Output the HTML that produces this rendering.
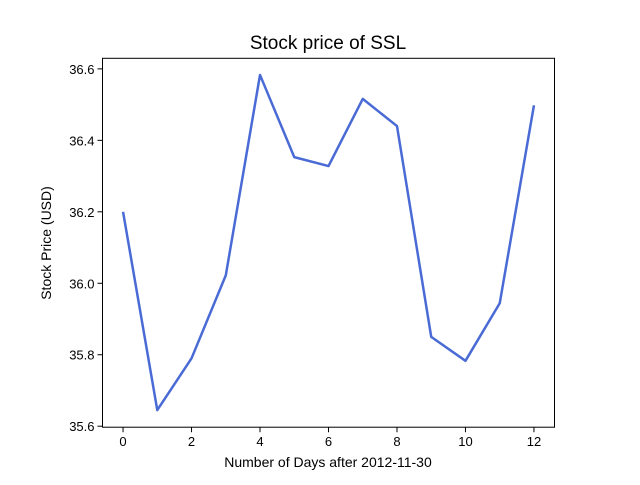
<!DOCTYPE html>
<html><head><meta charset="utf-8"><style>
body{margin:0;background:#fff;}
svg text{font-family:"Liberation Sans",sans-serif;}
</style></head><body>
<svg id="chart" width="640" height="480" xmlns="http://www.w3.org/2000/svg">
<rect width="640" height="480" fill="#fff"/>
<text x="328" y="49" font-size="19" text-anchor="middle">Stock price of SSL</text>
<g id="plot"></g>
<text x="328" y="467" font-size="14" text-anchor="middle">Number of Days after 2012-11-30</text>
<text transform="translate(51,243) rotate(-90)" font-size="14" text-anchor="middle">Stock Price (USD)</text>
</svg>
<script>
const days=[0,1,2,3,4,5,6,7,8,9,10,11,12];
const prices=[36.20,35.645,35.79,36.022,36.583,36.353,36.328,36.516,36.440,35.850,35.783,35.944,36.498];
const xTicks=[0,2,4,6,8,10,12];
const yTicks=[35.6,35.8,36.0,36.2,36.4,36.6];
const yTickLabels=["35.6","35.8","36.0","36.2","36.4","36.6"];
const L=102.5,R=554.5,T=58.3,B=427.2;
const xmin=-0.6,xmax=12.6,ymin=35.6-0.0028,ymax=36.6+0.0296;
const xs=v=>L+(v-xmin)/(xmax-xmin)*(R-L);
const ys=v=>B-(v-ymin)/(ymax-ymin)*(B-T);
const g=document.getElementById('plot');
const NS='http://www.w3.org/2000/svg';
function mk(t,a){const e=document.createElementNS(NS,t);for(const k in a)e.setAttribute(k,a[k]);g.appendChild(e);return e;}
const line=mk('polyline',{points:days.map((d,i)=>xs(d)+','+ys(prices[i])).join(' '),fill:'none',stroke:'#4a6bd5','stroke-width':2.5,'stroke-linejoin':'round'});


const fr=mk('rect',{x:L,y:T,width:R-L,height:B-T,fill:'none',stroke:'#000','stroke-width':1});


xTicks.forEach(v=>{const x=xs(v);
mk('line',{x1:x,x2:x,y1:B,y2:B+5,stroke:'#000'});
const t=mk('text',{x:x,y:B+19,'font-size':13,'text-anchor':'middle'});t.textContent=v;

});
yTicks.forEach((v,i)=>{const y=ys(v);
mk('line',{x1:L-5,x2:L,y1:y,y2:y,stroke:'#000'});
const t=mk('text',{x:L-8,y:y+5,'font-size':13,'text-anchor':'end'});t.textContent=yTickLabels[i];

});
</script>
</body></html>
